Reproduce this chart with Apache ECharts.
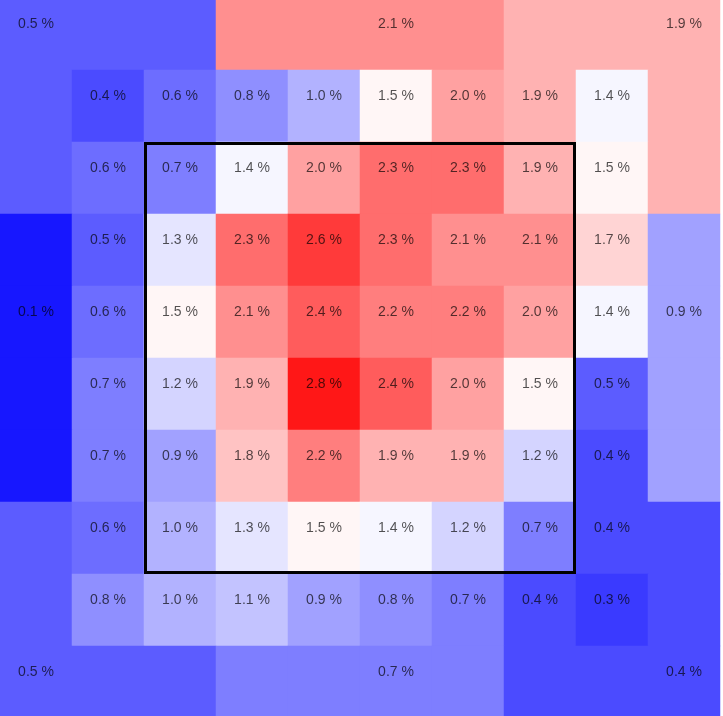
<!DOCTYPE html>
<html>
<head>
<meta charset="utf-8">
<style>
  html, body { margin: 0; padding: 0; background: #ffffff; }
  #chart { width: 723px; height: 716px; }
</style>
<script src="https://cdn.jsdelivr.net/npm/echarts@6/dist/echarts.min.js"></script>
</head>
<body>
<div id="chart"></div>
<script>
// Column / row categories of the 10 x 10 grid (row 0 is the top)
var cols = ['0','1','2','3','4','5','6','7','8','9'];
var rows = ['0','1','2','3','4','5','6','7','8','9'];

// Inner 8 x 8 zone values (%), rows 1..8, columns 1..8
var inner = [
  [0.4, 0.6, 0.8, 1.0, 1.5, 2.0, 1.9, 1.4],
  [0.6, 0.7, 1.4, 2.0, 2.3, 2.3, 1.9, 1.5],
  [0.5, 1.3, 2.3, 2.6, 2.3, 2.1, 2.1, 1.7],
  [0.6, 1.5, 2.1, 2.4, 2.2, 2.2, 2.0, 1.4],
  [0.7, 1.2, 1.9, 2.8, 2.4, 2.0, 1.5, 0.5],
  [0.7, 0.9, 1.8, 2.2, 1.9, 1.9, 1.2, 0.4],
  [0.6, 1.0, 1.3, 1.5, 1.4, 1.2, 0.7, 0.4],
  [0.8, 1.0, 1.1, 0.9, 0.8, 0.7, 0.4, 0.3]
];

// Outer ring zones (%)
var outerNames  = ['topLeft','top','topRight','left','right','bottomLeft','bottom','bottomRight'];
var outerValues = [0.5, 2.1, 1.9, 0.1, 0.9, 0.5, 0.7, 0.4];
// cell (col,row) where each outer zone's label is printed
var outerLabelCells = [[0,0],[5,0],[9,0],[0,4],[9,4],[0,9],[5,9],[9,9]];

// strike zone box: columns 2..7, rows 2..7
var zoneBox = [[2, 2, 7, 7]];

function outerZone(c, r) {
  if (r === 0) { return c <= 2 ? 0 : (c <= 6 ? 1 : 2); }
  if (r === 9) { return c <= 2 ? 5 : (c <= 6 ? 6 : 7); }
  if (c === 0) { return r <= 2 ? 0 : (r <= 6 ? 3 : 5); }
  if (c === 9) { return r <= 2 ? 2 : (r <= 6 ? 4 : 7); }
  return -1;
}

var data = [];
for (var r = 0; r < 10; r++) {
  for (var c = 0; c < 10; c++) {
    var z = outerZone(c, r);
    var v, show;
    if (z >= 0) {
      v = outerValues[z];
      show = outerLabelCells[z][0] === c && outerLabelCells[z][1] === r;
    } else {
      v = inner[r - 1][c - 1];
      show = true;
    }
    data.push({ value: [c, r, v], label: { show: show } });
  }
}

var chart = echarts.init(document.getElementById('chart'));
chart.setOption({
  animation: false,
  grid: { left: 0, top: -2, width: 720, height: 720, containLabel: false, outerBoundsMode: 'none' },
  xAxis: { type: 'category', data: cols, show: false },
  yAxis: { type: 'category', data: rows, inverse: true, show: false },
  visualMap: {
    show: false,
    type: 'continuous',
    min: 0,
    max: 2.9,
    dimension: 2,
    seriesIndex: 0,
    inRange: { color: ['#0606ff', '#ffffff', '#ff0606'] }
  },
  series: [
    {
      type: 'heatmap',
      data: data,
      label: {
        show: true,
        offset: [0, -10],
        fontFamily: 'Liberation Sans, Arial, sans-serif',
        fontSize: 14,
        color: 'rgba(0,0,0,0.68)',
        formatter: function (p) { return p.value[2].toFixed(1) + ' %'; }
      },
      itemStyle: { borderWidth: 0 },
      emphasis: { disabled: true },
      silent: true
    },
    {
      type: 'custom',
      data: zoneBox,
      silent: true,
      z: 10,
      renderItem: function (params, api) {
        var a = api.coord([api.value(0), api.value(1)]);
        var b = api.coord([api.value(2), api.value(3)]);
        var s = api.size([1, 1]);
        var lw = 3;
        var x0 = a[0] - s[0] / 2 + lw / 2;
        var y0 = a[1] - s[1] / 2 + lw / 2;
        var x1 = b[0] + s[0] / 2 - lw / 2;
        var y1 = b[1] + s[1] / 2 - lw / 2;
        return {
          type: 'rect',
          shape: { x: x0, y: y0, width: x1 - x0, height: y1 - y0 },
          style: { fill: null, stroke: '#000000', lineWidth: lw }
        };
      }
    }
  ]
});
</script>
</body>
</html>
